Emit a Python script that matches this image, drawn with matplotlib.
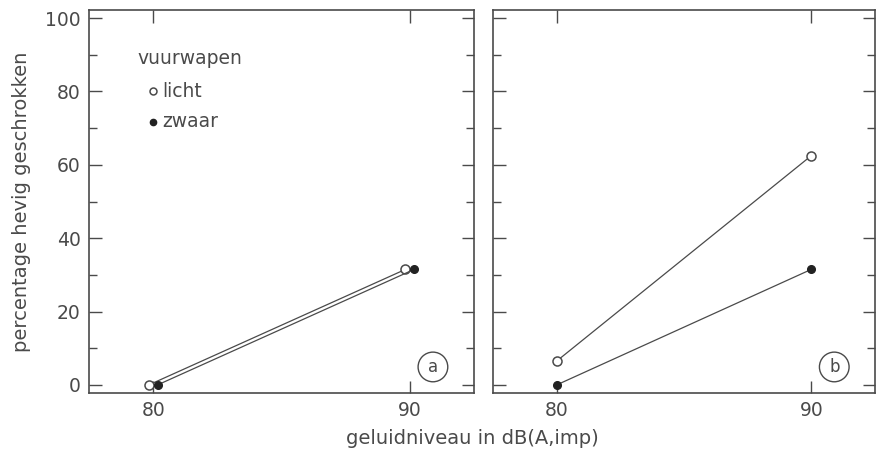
import matplotlib

matplotlib.use("Agg")
import matplotlib.pyplot as plt
from matplotlib.ticker import MultipleLocator

# geluidniveau (dB(A,imp)) and percentage hevig geschrokken
levels = [80, 90]
a_licht = [0, 31.5]
a_zwaar = [0, 31.5]
b_licht = [6.5, 62.5]
b_zwaar = [0, 31.5]

x_ticks = [80, 90]
y_ticks = [0, 20, 40, 60, 80, 100]
legend_title = "vuurwapen"
legend_labels = ["licht", "zwaar"]
panel_tags = ["a", "b"]

GREY = "#4a4a4a"
plt.rcParams["font.family"] = ["DejaVu Sans"]

fig = plt.figure(figsize=(8.76, 4.5), dpi=100)
ax_a = fig.add_axes([89 / 876, 57 / 450, 385 / 876, 383 / 450])
ax_b = fig.add_axes([493 / 876, 57 / 450, 382 / 876, 383 / 450])


def draw(ax, licht, zwaar, dx):
    xs_l = [x - dx for x in levels]
    xs_z = [x + dx for x in levels]
    ax.plot(xs_l, licht, color=GREY, lw=0.9, marker="o", ms=6.5,
            mfc="white", mec=GREY, mew=1.1, zorder=3)
    ax.plot(xs_z, zwaar, color=GREY, lw=0.9, marker="o", ms=5.5,
            mfc="#222222", mec="#222222", zorder=3)


draw(ax_a, a_licht, a_zwaar, 0.17)
draw(ax_b, b_licht, b_zwaar, 0.0)

for ax, tag in zip((ax_a, ax_b), panel_tags):
    ax.set_xlim(77.5, 92.5)
    ax.set_ylim(-2.2, 102.2)
    ax.set_xticks(x_ticks)
    ax.set_yticks(y_ticks)
    ax.yaxis.set_minor_locator(MultipleLocator(10))
    ax.tick_params(which="both", direction="in", top=True, right=True,
                   color=GREY, width=1, labelcolor=GREY, labelsize=13.5, pad=6)
    ax.tick_params(which="major", length=9)
    ax.tick_params(which="minor", length=6)
    for sp in ax.spines.values():
        sp.set_color(GREY)
        sp.set_linewidth(1.2)
    ax.text(90.9, 4.9, tag, ha="center", va="center", color=GREY, fontsize=12,
            bbox=dict(boxstyle="circle,pad=0.35", fc="white", ec=GREY, lw=1))

ax_b.tick_params(axis="y", which="both", labelleft=False)

# legend drawn inside panel a
ax_a.text(79.4, 89, legend_title, color=GREY, fontsize=13.5, va="center")
ax_a.plot([80.0], [80], marker="o", ms=5, mfc="white", mec=GREY, mew=1.1, ls="none")
ax_a.plot([80.0], [71.8], marker="o", ms=4.5, mfc="#222222", mec="#222222", ls="none")
ax_a.text(80.35, 80, legend_labels[0], color=GREY, fontsize=13.5, va="center")
ax_a.text(80.35, 71.8, legend_labels[1], color=GREY, fontsize=13.5, va="center")

ax_a.set_ylabel("percentage hevig geschrokken", color=GREY, fontsize=14, labelpad=10)
fig.text(472 / 876, 11 / 450, "geluidniveau in dB(A,imp)", ha="center", va="center",
         color=GREY, fontsize=14)

fig.savefig("out.png", dpi=100)
